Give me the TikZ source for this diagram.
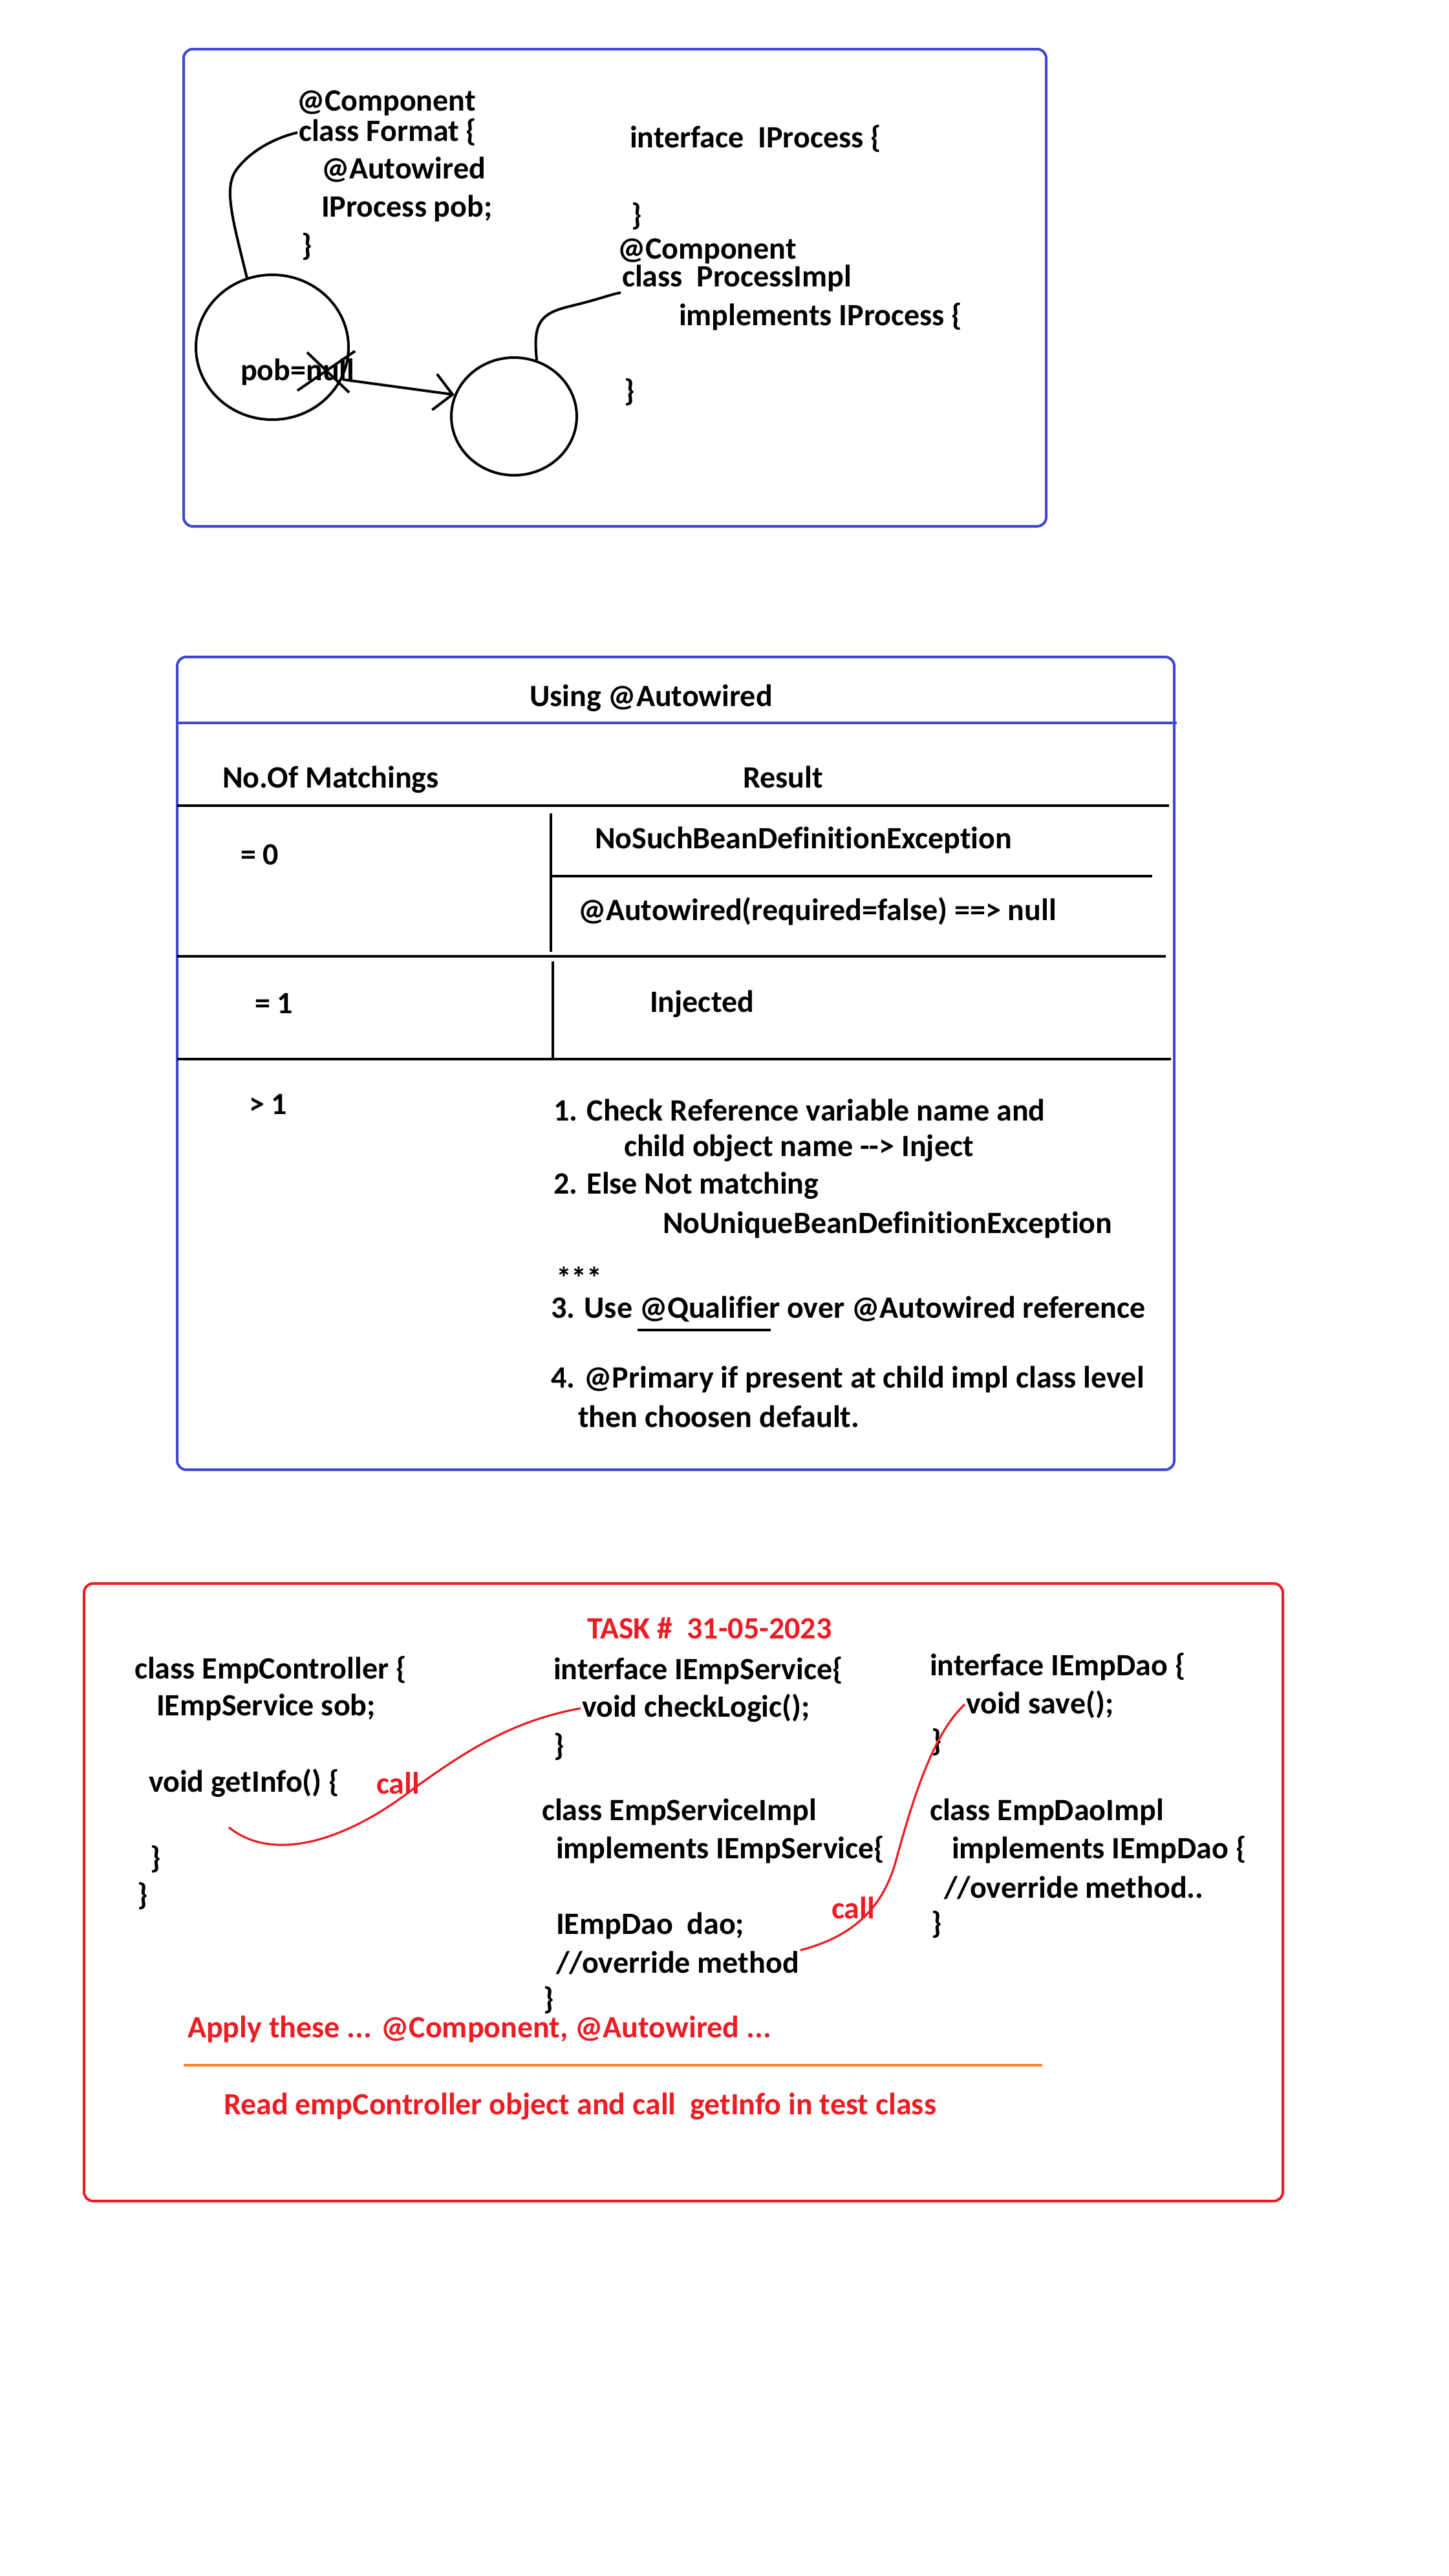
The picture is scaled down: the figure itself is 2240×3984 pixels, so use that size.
\documentclass[tikz,border=0pt]{standalone}
\usepackage{fontspec}
\setmainfont{Carlito}[Ligatures=NoCommon]
\usetikzlibrary{positioning,shapes.geometric,arrows.meta}
\definecolor{frameblue}{RGB}{63,72,204}
\definecolor{taskred}{RGB}{237,28,36}
\definecolor{lineorange}{RGB}{255,127,39}

\begin{document}
\begin{tikzpicture}[x=0.5pt,y=-0.5pt,line width=2pt,
    code/.style={anchor=west,inner sep=0pt,font=\fontsize{24}{28}\selectfont\bfseries},
    task/.style={code,text=taskred},
    obj node/.style={ellipse,draw,inner sep=0pt},
    frame/.style={draw=#1,line width=2pt,rounded corners=7pt},
    rule/.style={line width=2.2pt}]

\path[fill=white,use as bounding box] (0,0) rectangle (2240,3984);

% beans
\draw[frame=frameblue] (284,76) rectangle (1618,814);

\node[code] (comp1)    at (457,160)  {@Component};
\node[code] (fmtcls)   at (460,205)  {class Format \{};
\node[code] (autow)    at (495,262)  {@Autowired};
\node[code] (pobdecl)  at (495,322)  {IProcess pob;};
\node[code] (fmtend)   at (464,382)  {\}};
\node[code] (iproc)    at (972,215)  {interface~~IProcess \{};
\node[code] (iprocend) at (974,335)  {\}};
\node[code] (comp2)    at (953,389)  {@Component};
\node[code] (implcls)  at (960,430)  {class~~ProcessImpl};
\node[code] (implif)   at (1048,490) {implements IProcess \{};
\node[code] (implend)  at (963,607)  {\}};

\node[obj node,minimum width=118pt,minimum height=112pt] (fmt)  at (421,537) {};
\node[obj node,minimum width=97pt,minimum height=91pt]   (proc) at (795,644) {};
\node[code] (pob) at (370,575) {pob=null};

\draw (fmt.110) .. controls (360,340) and (345,290) .. (366,262)
                .. controls (390,230) and (430,212) .. (fmtcls.west);
\draw (proc.68) .. controls (824,500) and (835,485) .. (880,474)
                .. controls (930,462) and (945,455) .. (implcls.south west);
\draw[-{Straight Barb[length=14pt,width=28pt]}] ([xshift=-10pt,yshift=-6pt]pob.east) -- (proc.160);
\draw (475,545) -- (540,607) (549,543) -- (460,604);

% autowired table
\draw[frame=frameblue] (274,1016) rectangle (1816,2273);
\draw[frameblue,line width=2pt] (274,1118) -- (1820,1118);
\draw[rule] (274,1246) -- (1808,1246);
\draw[rule] (852,1258) -- (852,1472);
\draw[rule] (852,1355) -- (1782,1355);
\draw[rule] (274,1479) -- (1803,1479);
\draw[rule] (855,1487) -- (855,1637);
\draw[rule] (274,1638) -- (1811,1638);

\node[code,anchor=center] (title) at (1007,1080) {Using @Autowired};
\node[code] (colcount)  at (342,1206) {No.Of Matchings};
\node[code,anchor=center] (colres) at (1211,1202) {Result};
\node[code] (zero)      at (370,1322) {= 0};
\node[code] (nosuch)    at (918,1299) {NoSuchBeanDefinitionException};
\node[code] (optional)  at (892,1409) {@Autowired(required=false) ==> null};
\node[code] (one)       at (392,1552) {= 1};
\node[code] (injected)  at (1003,1553) {Injected};
\node[code] (many)      at (383,1708) {> 1};
\node[code] (rule1)     at (854,1717) {1. Check Reference variable name and};
\node[code] (rule1b)    at (963,1776) {child object name {-}{-}> Inject};
\node[code] (rule2)     at (854,1834) {2. Else Not matching};
\node[code] (rule2b)    at (1023,1894) {NoUniqueBeanDefinitionException};
\node[code,anchor=base west] (stars) at (858,1993) {***};
\node[code] (rule3)     at (850,2025) {3. Use @Qualifier over @Autowired reference};
\node[code] (rule4)     at (850,2133) {4. @Primary if present at child impl class level};
\node[code] (rule4b)    at (892,2191) {then choosen default.};
\draw (986,2057) -- (1192,2057);

% task
\draw[frame=taskred] (130,2449) rectangle (1984,3404);
\node[task] (taskhead) at (906,2518) {TASK \#~~31-05-2023};

\node[code] (ctrl)     at (206,2583) {class EmpController \{};
\node[code] (sob)      at (240,2640) {IEmpService sob;};
\node[code] (getinfo)  at (228,2758) {void getInfo() \{};
\node[task] (call1)    at (580,2758) {call};
\node[code] (getend)   at (230,2875) {\}};
\node[code] (ctrlend)  at (210,2932) {\}};

\node[code] (isrv)     at (854,2584) {interface IEmpService\{};
\node[code] (check)    at (898,2642) {void checkLogic();};
\node[code] (isrvend)  at (854,2701) {\}};
\node[code] (srvimpl)  at (836,2802) {class EmpServiceImpl};
\node[code] (srvif)    at (858,2861) {implements IEmpService\{};
\node[code] (daofield) at (858,2978) {IEmpDao~~dao;};
\node[code] (srvovr)   at (858,3036) {//override method};
\node[code] (srvend)   at (838,3093) {\}};
\node[task] (call2)    at (1284,2951) {call};

\node[code] (idao)     at (1436,2578) {interface IEmpDao \{};
\node[code] (save)     at (1492,2636) {void save();};
\node[code] (idaoend)  at (1438,2694) {\}};
\node[code] (daoimpl)  at (1436,2802) {class EmpDaoImpl};
\node[code] (daoif)    at (1470,2861) {implements IEmpDao \{};
\node[code] (daoovr)   at (1458,2920) {//override method..};
\node[code] (daoend)   at (1438,2976) {\}};

\coordinate (callstart) at (354,2826);
\draw[taskred,line width=1.6pt] (callstart) .. controls (420,2880) and (530,2850) .. (636,2769)
    .. controls (730,2700) and (800,2660) .. (check.west);
\draw[taskred,line width=1.6pt] (srvovr.north east) .. controls (1320,2995) and (1365,2950) .. (1385,2880)
    .. controls (1415,2770) and (1445,2680) .. (save.west);

\node[task] (apply) at (288,3138) {Apply these ... @Component, @Autowired ...};
\draw[lineorange,line width=2pt] (284,3194) -- (1612,3194);
\node[task] (readobj) at (344,3258) {Read empController object and call~~getInfo in test class};
\end{tikzpicture}
\end{document}
